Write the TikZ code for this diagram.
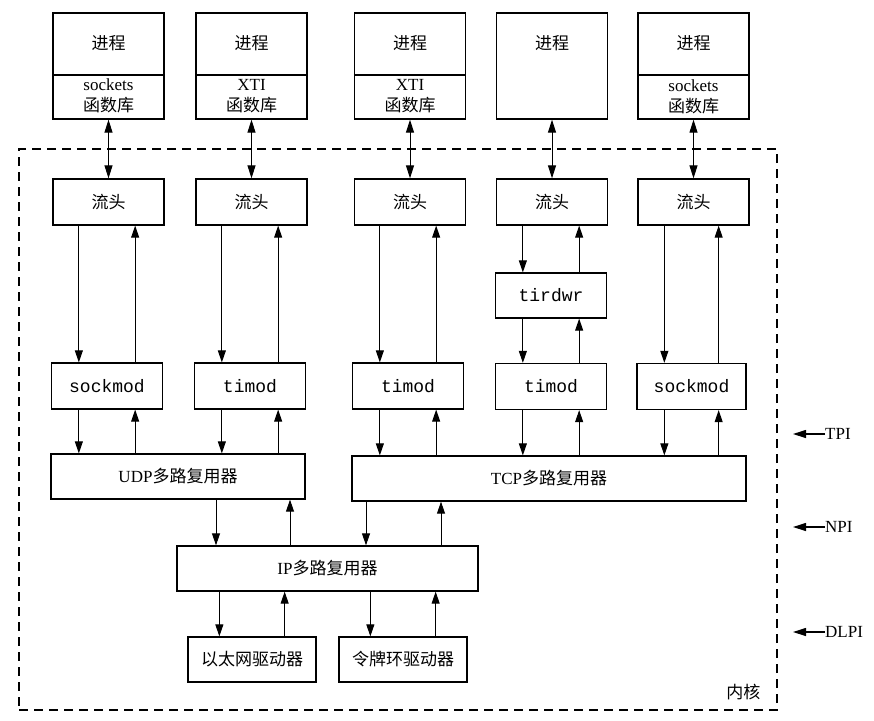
\documentclass[tikz,border=0pt]{standalone}
\usepackage{fontspec}
\setmainfont{Liberation Serif}
\setmonofont{Liberation Mono}
\newfontfamily\cjk{Noto Sans CJK SC}
\usetikzlibrary{arrows.meta,calc}
\begin{document}
\begin{tikzpicture}[x=1pt,y=-1pt,
  every node/.style={font=\fontsize{17}{21}\selectfont},
  box/.style={draw, line width=1.3pt, inner sep=0pt, minimum height=46pt},
  cbox/.style={box, minimum width=111pt},
  mono/.style={font=\fontsize{18}{21}\selectfont\ttfamily},
  arr/.style={line width=1pt, -{Triangle[length=12pt,width=8pt]}},
  darr/.style={line width=1pt, {Triangle[length=13pt,width=8pt]}-{Triangle[length=13pt,width=8pt]}},
  larr/.style={line width=1.2pt, -{Triangle[length=13pt,width=8pt]}},
  kern/.style={draw, dashed, dash pattern=on 9pt off 6pt, line width=1.2pt, inner sep=0pt}
]
\useasboundingbox (0,0) rectangle (874,720);

% kernel box
\node[kern, minimum width=758pt, minimum height=561pt] (kernel) at (398,429.5) {};
\node[anchor=east] (kl) at (764,692) {\cjk 内核};

% process boxes
\foreach \i/\cx in {1/108.5,2/251.5,3/410,4/552,5/693.5}{
  \node[box, minimum width=111pt, minimum height=106pt] (p\i) at (\cx,66) {};
  \node (pt\i) at (\cx,43) {\cjk 进程};
}
\foreach \i in {1,2,3,5}{
  \draw[line width=1.3pt] (p\i.west |- 0,75) -- (p\i.east |- 0,75);
}
\node[align=center, font=\fontsize{17}{21}\selectfont] (l1) at (108.5,96) {sockets\\{\cjk 函数库}};
\node[align=center, font=\fontsize{17}{21}\selectfont] (l2) at (251.5,96) {XTI\\{\cjk 函数库}};
\node[align=center, font=\fontsize{17}{21}\selectfont] (l3) at (410,96) {XTI\\{\cjk 函数库}};
\node[align=center, font=\fontsize{17}{21}\selectfont] (l5) at (693.5,97) {sockets\\{\cjk 函数库}};

% stream heads
\foreach \i/\cx in {1/108.5,2/251.5,3/410,4/552,5/693.5}{
  \node[cbox] (h\i) at (\cx,202) {\cjk 流头};
  \draw[darr] (p\i.south) -- (h\i.north);
}

% tirdwr
\node[cbox, mono, minimum height=45pt] (tr) at (551,295.5) {tirdwr};

% modules
\node[cbox, mono] (m1) at (107,386) {sockmod};
\node[cbox, mono] (m2) at (250,386) {timod};
\node[cbox, mono] (m3) at (408,386) {timod};
\node[cbox, mono] (m4) at (551,386.5) {timod};
\node[cbox, mono, minimum width=109pt] (m5) at (691.5,386.5) {sockmod};

\foreach \i in {1,...,5}{
  \coordinate (md\i) at ([xshift=28pt]m\i.north west);
  \coordinate (mu\i) at ([xshift=-28pt]m\i.north east);
  \coordinate (bd\i) at ([xshift=28pt]m\i.south west);
  \coordinate (bu\i) at ([xshift=-28pt]m\i.south east);
}
% stream head -> module
\foreach \i in {1,2,3,5}{
  \draw[arr] (h\i.south -| md\i) -- (md\i);
  \draw[arr] (mu\i) -- (h\i.south -| mu\i);
}
\draw[arr] (h4.south -| md4) -- (tr.north -| md4);
\draw[arr] (tr.north -| mu4) -- (h4.south -| mu4);
\draw[arr] (tr.south -| md4) -- (md4);
\draw[arr] (mu4) -- (tr.south -| mu4);

% multiplexers
\node[box, minimum width=254pt, minimum height=45pt] (udp) at (178,476.5) {UDP{\cjk 多路复用器}};
\node[box, minimum width=394pt, minimum height=45pt] (tcp) at (549,478.5) {TCP{\cjk 多路复用器}};
\foreach \i in {1,2}{
  \draw[arr] (bd\i) -- (udp.north -| bd\i);
  \draw[arr] (udp.north -| bu\i) -- (bu\i);
}
\foreach \i in {3,4,5}{
  \draw[arr] (bd\i) -- (tcp.north -| bd\i);
  \draw[arr] (tcp.north -| bu\i) -- (bu\i);
}

% IP
\node[box, minimum width=301pt, minimum height=45pt] (ip) at (327.5,568.5) {IP{\cjk 多路复用器}};
\coordinate (ud) at (216,0);
\coordinate (uu) at (290,0);
\coordinate (td) at (366,0);
\coordinate (tu) at (441,0);
\draw[arr] (udp.south -| ud) -- (ip.north -| ud);
\draw[arr] (ip.north -| uu) -- (udp.south -| uu);
\draw[arr] (tcp.south -| td) -- (ip.north -| td);
\draw[arr] (ip.north -| tu) -- (tcp.south -| tu);

% drivers
\node[box, minimum width=128pt, minimum height=45pt] (eth) at (252,659.5) {\cjk 以太网驱动器};
\node[box, minimum width=128pt, minimum height=45pt] (tok) at (403,659.5) {\cjk 令牌环驱动器};
\coordinate (ed) at ([xshift=32pt]eth.north west);
\coordinate (eu) at ([xshift=-32pt]eth.north east);
\coordinate (kd) at ([xshift=32pt]tok.north west);
\coordinate (ku) at ([xshift=-32pt]tok.north east);
\draw[arr] (ip.south -| ed) -- (ed);
\draw[arr] (eu) -- (ip.south -| eu);
\draw[arr] (ip.south -| kd) -- (kd);
\draw[arr] (ku) -- (ip.south -| ku);

% interface labels
\node[anchor=west, inner sep=0pt] (tpi) at (825,434) {TPI};
\node[anchor=west, inner sep=0pt] (npi) at (825,527) {NPI};
\node[anchor=west, inner sep=0pt] (dlpi) at (825,632) {DLPI};
\coordinate (tpie) at (793,434);
\coordinate (npie) at (793,527);
\coordinate (dlpie) at (793,632);
\draw[larr] (tpi.west) -- (tpie);
\draw[larr] (npi.west) -- (npie);
\draw[larr] (dlpi.west) -- (dlpie);
\end{tikzpicture}
\end{document}
